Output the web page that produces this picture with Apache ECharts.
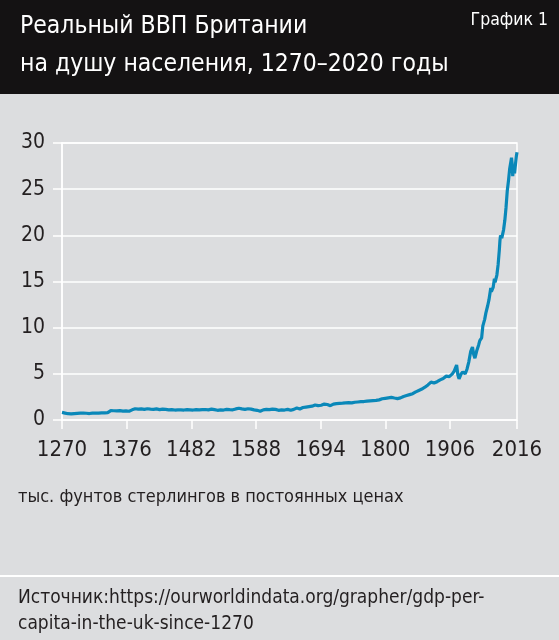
<!DOCTYPE html>
<html>
<head>
<meta charset="utf-8">
<script src="https://cdn.jsdelivr.net/npm/echarts@6/dist/echarts.min.js"></script>
<style>
html,body{margin:0;padding:0;background:#dcdddf;}
#chart{width:559px;height:640px;}
</style>
</head>
<body>
<div id="chart"></div>
<script>
var titleLines = ['Реальный ВВП Британии', 'на душу населения, 1270–2020 годы'];
var chartTag = 'График 1';
var unitNote = 'тыс. фунтов стерлингов в постоянных ценах';
var sourceLines = ['Источник:https://ourworldindata.org/grapher/gdp-per-', 'capita-in-the-uk-since-1270'];

var xTickYears = [1270, 1376, 1482, 1588, 1694, 1800, 1906, 2016];
var yTicks = [0, 5, 10, 15, 20, 25, 30];

var years = [
 1270,1275,1280,1285,1290,1295,1300,1305,1310,1315,1320,1325,1330,1335,1340,1345,
 1350,1355,1360,1365,1370,1375,1380,1385,1390,1395,1400,1405,1410,1415,1420,1425,
 1430,1435,1440,1445,1450,1455,1460,1465,1470,1475,1480,1485,1490,1495,1500,1505,
 1510,1515,1520,1525,1530,1535,1540,1545,1550,1555,1560,1565,1570,1575,1580,1585,
 1590,1595,1600,1605,1610,1615,1620,1625,1630,1635,1640,1645,1650,1655,1660,1665,
 1670,1675,1680,1685,1690,1695,1700,1705,1710,1715,1720,1725,1730,1735,1740,1745,
 1750,1755,1760,1765,1770,1775,1780,1785,1790,1795,1800,1805,1810,1815,1820,1825,
 1830,1835,1840,1845,1850,1855,1860,1865,1870,1875,1878,1880,1885,1890,1895,1900,
 1905,1910,1913,1915,1917,1919,1921,1924,1927,1929,1931,1934,1937,1940,1943,1945,
 1947,1950,1953,1955,1958,1960,1963,1965,1968,1970,1973,1974,1975,1977,1979,1980,
 1981,1983,1985,1987,1988,1989,1990,1991,1992,1994,1996,1998,2000,2002,2004,2006,
 2007,2008,2009,2010,2011,2012,2013,2014,2015,2016
];
var gdpPerCapita = [
 0.82,0.75,0.68,0.66,0.70,0.72,0.74,0.76,0.73,0.70,0.75,0.76,0.74,0.77,0.78,0.80,
 1.02,1.00,0.98,1.02,0.96,0.98,0.95,1.10,1.22,1.18,1.20,1.15,1.22,1.18,1.15,1.20,
 1.12,1.18,1.15,1.10,1.12,1.08,1.10,1.10,1.08,1.12,1.10,1.08,1.12,1.10,1.12,1.14,
 1.10,1.18,1.12,1.05,1.10,1.08,1.15,1.12,1.10,1.20,1.28,1.20,1.15,1.22,1.18,1.10,
 1.05,0.95,1.10,1.15,1.12,1.18,1.15,1.05,1.10,1.08,1.15,1.05,1.15,1.30,1.20,1.35,
 1.40,1.45,1.50,1.62,1.55,1.60,1.72,1.68,1.55,1.72,1.78,1.80,1.82,1.85,1.88,1.85,
 1.92,1.95,1.98,2.00,2.05,2.08,2.10,2.12,2.18,2.30,2.35,2.40,2.45,2.38,2.32,2.40,
 2.55,2.65,2.75,2.85,3.05,3.20,3.35,3.55,3.80,4.10,4.25,4.00,4.15,4.35,4.50,4.75,
 4.70,5.00,5.30,5.50,5.95,4.90,4.45,4.95,5.20,5.35,5.00,5.50,6.30,7.40,7.90,7.10,
 6.70,7.50,8.10,8.60,8.90,10.20,10.90,11.60,12.40,13.00,14.30,13.90,13.80,14.40,15.30,14.90,
 14.80,15.70,16.80,18.40,19.40,20.00,20.10,19.70,19.70,20.60,21.60,23.00,24.80,25.90,27.20,28.00,
 28.40,27.80,26.40,27.30,27.00,26.70,27.40,28.00,28.60,29.00
];

var seriesData = years.map(function (y, i) { return [y, gdpPerCapita[i]]; });

var FONT = "'Liberation Sans Narrow','DejaVu Sans Condensed','Roboto Condensed',Roboto,sans-serif";
var chart = echarts.init(document.getElementById('chart'));
chart.setOption({
  backgroundColor: '#dcdddf',
  animation: false,
  grid: { left: 62, right: 42, top: 143, bottom: 220, show: true, borderColor: '#ffffff', borderWidth: 1.5, backgroundColor: 'transparent' },
  xAxis: {
    type: 'value', min: 1270, max: 2016,
    axisLine: { show: false },
    axisTick: { show: true, length: 9, lineStyle: { color: '#ffffff', width: 1.5 }, customValues: xTickYears },
    axisLabel: { customValues: xTickYears, fontSize: 22, color: '#231f20', fontFamily: FONT, margin: 19,
      formatter: function (v) { return String(v); } },
    splitLine: { show: false }
  },
  yAxis: {
    type: 'value', min: 0, max: 30, interval: 5,
    axisLine: { show: true, lineStyle: { color: '#ffffff', width: 1.5 } },
    axisTick: { show: true, length: 9, lineStyle: { color: '#ffffff', width: 1.5 } },
    axisLabel: { fontSize: 21, color: '#231f20', fontFamily: FONT, margin: 17 },
    splitLine: { show: true, lineStyle: { color: '#ffffff', width: 1.5 } }
  },
  series: [{
    type: 'line', data: seriesData, showSymbol: false, symbol: 'none',
    lineStyle: { color: '#0a88b9', width: 3.2 }, itemStyle: { color: '#0a88b9' }
  }],
  graphic: [
    { type: 'rect', left: 0, top: 0, shape: { width: 559, height: 94 }, style: { fill: '#141213' }, z: 0 },
    { type: 'text', x: 20, y: 27, style: { text: titleLines[0], fill: '#ffffff', font: '24.5px ' + FONT, verticalAlign: 'middle' }, z: 2 },
    { type: 'text', x: 20, y: 65, style: { text: titleLines[1], fill: '#ffffff', font: '24.5px ' + FONT, verticalAlign: 'middle' }, z: 2 },
    { type: 'text', x: 548, y: 20, style: { text: chartTag, fill: '#ffffff', font: '17.5px ' + FONT, align: 'right', verticalAlign: 'middle' }, z: 2 },
    { type: 'text', x: 18, y: 497, style: { text: unitNote, fill: '#231f20', font: '18px ' + FONT, verticalAlign: 'middle' }, z: 2 },
    { type: 'rect', left: 0, top: 575, shape: { width: 559, height: 2 }, style: { fill: '#ffffff' }, z: 1 },
    { type: 'text', x: 18, y: 598, style: { text: sourceLines[0], fill: '#231f20', font: '19px ' + FONT, verticalAlign: 'middle' }, z: 2 },
    { type: 'text', x: 18, y: 624, style: { text: sourceLines[1], fill: '#231f20', font: '19px ' + FONT, verticalAlign: 'middle' }, z: 2 }
  ]
});
</script>
</body>
</html>
